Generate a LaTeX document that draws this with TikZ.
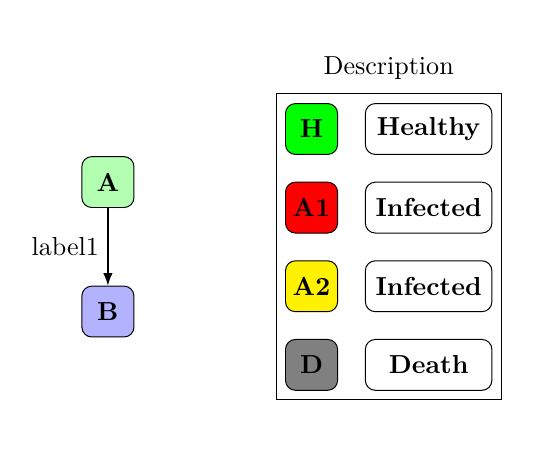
\documentclass[tikz,border=0pt]{standalone}
\usepackage{xcolor}
\usepackage{tikz}
\usetikzlibrary{positioning,fit,arrows.meta}

\begin{document}
\begin{tikzpicture}[
          font=\fontsize{10.5}{12.5}\selectfont,
          statenode/.style={draw, rounded corners=4pt,
                            minimum width=21pt, minimum height=20.5pt,
                            inner sep=1pt, font=\fontsize{10.5}{12.5}\selectfont\bfseries},
          descnode/.style={draw, rounded corners=4pt,
                           minimum width=51pt, minimum height=20.5pt,
                           inner sep=1pt, font=\fontsize{10.5}{12.5}\selectfont\bfseries},
          arr/.style={-{Latex[length=5pt,width=3.8pt]}, semithick}]
          \useasboundingbox (0pt,0pt) rectangle (217.7pt,-183pt);
          % chain on the left
          \node[statenode, fill=green!30] (a) at (43.5pt,-73.4pt) {A};
          \node[statenode, fill=blue!30, below=31.3pt of a] (b) {B};
          \draw[arr] (a) -- node[left=0pt] {label1} (b);
          % legend
          \node[statenode, fill=green] (h) at (125.6pt,-52pt) {H};
          \node[statenode, fill=red, below=10.8pt of h] (a1) {A1};
          \node[statenode, fill=yellow, below=10.8pt of a1] (a2) {A2};
          \node[statenode, fill=gray, below=10.8pt of a2] (d) {D};
          \node[descnode, right=10.8pt of h] (th) {Healthy};
          \node[descnode, right=10.8pt of a1] (ta1) {Infected};
          \node[descnode, right=10.8pt of a2] (ta2) {Infected};
          \node[descnode, right=10.8pt of d] (td) {Death};
          \node[draw, fit=(h)(td), inner xsep=3.6pt, inner ysep=3.7pt] (legend) {};
          \node[above=2pt of legend] (title) {Description};
        \end{tikzpicture}
\end{document}
